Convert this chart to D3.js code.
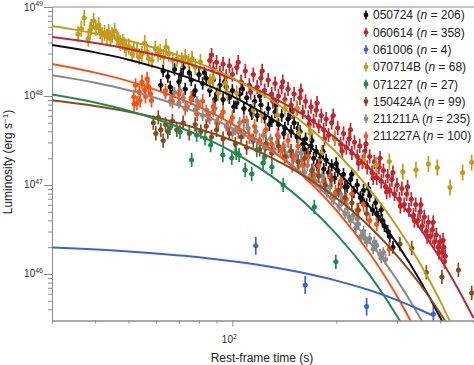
<!DOCTYPE html>
<html>
<head>
<meta charset="utf-8">
<script src="https://cdn.jsdelivr.net/npm/d3@7"></script>
<style>
  body { margin: 0; background: #fff; }
  svg { display: block; font-family: "Liberation Sans", Arial, sans-serif; }
</style>
</head>
<body>
<svg id="chart" width="474" height="365"></svg>
<script>
/**************************************************************************************************/
/* Data */
const names = ["050724", "060614", "061006", "070714B", "071227", "150424A", "211211A", "211227A"];
const counts = [206, 358, 4, 68, 27, 99, 235, 100];
const colors = ["#111111", "#c1272d", "#3a63d8", "#c49a1a", "#1f8a4c", "#8b4a1e", "#8a8a8a", "#ff4f12"];
// typical half length of the error bars, in dex
const errDex = [0.07, 0.08, 0.1, 0.09, 0.08, 0.08, 0.06, 0.08];

// rest-frame time (s), luminosity (erg/s)
const pts050724 = [[62,1.32e48],[63,1.91e48],[65,1.66e48],[66,1.26e48],[67,1.10e48],[68,2.00e48],[70,1.45e48],
  [71,1.74e48],[72,2.09e48],[73,1.20e48],[75,1.82e48],[76,1.51e48],[77,1.00e48],[78,1.15e48],[80,1.74e48],
  [82,1.38e48],[83,1.82e48],[84,1.58e48],[86,1.15e48],[88,1.51e48],[89,9.12e47],[90,1.05e48],[92,1.32e48],
  [94,9.12e47],[95,1.45e48],[96,1.26e48],[98,9.55e47],[100,1.15e48],[101,7.59e47],[103,8.32e47],[105,1.05e48],
  [107,1.20e48],[108,7.24e47],[110,9.55e47],[113,6.92e47],[114,6.31e47],[116,8.71e47],[118,6.03e47],
  [120,1.00e48],[121,7.94e47],[124,5.75e47],[127,7.24e47],[128,4.79e47],[130,5.25e47],[133,6.61e47],
  [134,7.94e47],[136,4.79e47],[139,6.03e47],[141,3.80e47],[142,4.37e47],[145,5.50e47],[147,6.31e47],
  [148,3.98e47],[151,5.01e47],[154,3.47e47],[155,4.37e47],[157,3.98e47],[160,2.88e47],[162,2.51e47],
  [163,3.31e47],[166,2.29e47],[169,2.75e47],[170,3.16e47],[172,2.00e47],[175,2.40e47],[176,1.66e47],
  [178,1.74e47],[181,2.09e47],[183,2.40e47],[184,1.51e47],[187,1.91e47],[190,1.38e47],[192,1.26e47],
  [194,1.66e47],[198,1.20e47],[200,1.74e47],[202,1.45e47],[206,1.05e47],[210,1.32e47],[212,9.55e46],
  [215,9.55e46],[220,1.15e47],[222,1.32e47],[225,8.32e46],[230,1.00e47],[235,7.24e46],[238,6.92e46],
  [240,8.71e46],[245,6.03e46],[248,9.12e46],[250,7.59e46],[255,5.25e46],[260,6.31e46],[262,4.79e46],
  [265,4.37e46],[270,5.25e46],[272,3.98e46],[276,3.47e46],[282,3.02e46],[286,2.63e46],[292,2.00e46]];
const pts060614 = [[86,2.51e48],[87,2.88e48],[88,2.00e48],[90,2.40e48],[92,1.82e48],[94,2.29e48],[95,1.45e48],
  [96,1.66e48],[98,2.19e48],[100,1.74e48],[103,2.09e48],[104,2.40e48],[106,1.45e48],[109,1.91e48],
  [112,1.32e48],[113,1.10e48],[115,1.74e48],[118,1.26e48],[121,1.58e48],[122,1.91e48],[124,1.15e48],
  [127,1.51e48],[130,1.05e48],[131,8.71e47],[133,1.38e48],[136,1.00e48],[139,1.26e48],[140,1.45e48],
  [142,9.12e47],[145,1.20e48],[148,7.94e47],[149,6.61e47],[151,1.05e48],[154,7.24e47],[157,9.55e47],
  [158,1.15e48],[160,6.61e47],[163,8.71e47],[166,5.75e47],[167,4.79e47],[169,7.59e47],[172,5.25e47],
  [175,6.92e47],[176,8.32e47],[178,4.57e47],[181,6.03e47],[184,4.17e47],[185,3.31e47],[187,5.50e47],
  [190,3.63e47],[194,5.01e47],[196,6.03e47],[198,3.31e47],[202,4.37e47],[206,2.88e47],[208,2.40e47],
  [210,3.80e47],[214,2.63e47],[218,3.31e47],[220,4.17e47],[222,2.29e47],[226,3.02e47],[230,2.09e47],
  [232,1.74e47],[234,2.75e47],[238,1.82e47],[242,2.40e47],[244,2.88e47],[246,1.58e47],[250,2.09e47],
  [254,1.38e47],[256,1.20e47],[258,1.82e47],[262,1.20e47],[266,1.58e47],[268,2.00e47],[270,1.10e47],
  [274,1.45e47],[278,9.55e46],[280,8.32e46],[282,1.26e47],[286,8.71e46],[290,1.15e47],[292,1.38e47],
  [295,7.94e46],[300,1.00e47],[305,6.92e46],[307,5.75e46],[310,9.12e46],[315,6.03e46],[320,7.94e46],
  [322,9.55e46],[325,5.25e46],[330,6.92e46],[335,4.57e46],[337,3.98e46],[340,6.03e46],[345,3.98e46],
  [350,5.01e46],[352,6.03e46],[355,3.47e46],[360,4.37e46],[365,3.02e46],[367,2.63e46],[370,3.80e46],
  [375,2.63e46],[380,3.16e46],[382,3.80e46],[385,2.29e46],[390,2.75e46],[395,2.00e46],[397,1.74e46],
  [400,2.29e46],[405,1.74e46],[408,2.40e46],[410,2.00e46],[412,1.38e46],[414,1.58e46]];
const pts061006 = [[116.9,2.07e46],[162.6,7.52e45],[245,4.30e45],[382.6,3.56e45]];
const pts070714B = [[35.7,4.93e48],[36.5,5.70e48],[37.2,7.58e48],[38.2,4.40e48],[38.7,5.47e48],[39.0,5.96e48],
  [39.6,6.96e48],[40.2,5.85e48],[41.0,6.23e48],[41.4,5.37e48],[41.9,4.81e48],[42.6,5.10e48],[43.3,4.60e48],
  [43.8,5.24e48],[44.3,4.40e48],[44.8,4.81e48],[45.6,5.37e48],[46.3,4.40e48],[46.8,4.23e48],[47.3,3.94e48],
  [48.1,4.04e48],[48.7,3.71e48],[49.2,3.40e48],[50.1,3.61e48],[51.2,2.99e48],[51.8,3.31e48],[52.9,3.26e48],
  [53.7,2.74e48],[54.7,2.99e48],[55.7,3.94e48],[56.6,3.12e48],[57.2,2.62e48],[58.5,2.52e48],[59.8,3.40e48],
  [60.9,2.99e48],[61.8,3.12e48],[63.2,2.74e48],[64.2,3.55e48],[65.4,2.99e48],[67.2,2.52e48],[69.1,2.62e48],
  [71.4,2.52e48],[73.0,2.74e48],[74.7,2.41e48],[76.4,2.62e48],[78.1,2.12e48],[80.8,2.41e48],[86.1,1.45e48],
  [87.9,1.58e48],[91.0,1.07e48],[95.5,1.40e48],[96.7,1.07e48],[102.9,1.07e48],[115,6.96e47],[121.6,6.12e47],
  [135,6.12e47],[142,7.28e47],[153.5,7.28e47],[156,3.81e47],[168,3.81e47],[181.5,2.27e47],[198,3.35e47],
  [240,1.91e47],[261,1.68e47],[285,1.83e47],[312,1.41e47],[340.6,1.48e47],[370,1.72e47],[392.6,1.57e47],
  [427.5,9.38e46],[465,1.38e47],[494,1.79e47]];
const pts071227 = [[65.9,4.37e47],[70.5,3.94e47],[76.2,1.91e47],[78.8,3.65e47],[83.3,3.37e47],[86.5,2.81e47],
  [93.8,2.17e47],[99.6,2.01e47],[102.5,2.29e47],[104.6,2.17e47],[108.9,1.48e47],[113.8,1.33e47],
  [117.7,2.47e47],[122.7,1.77e47],[124.1,2.07e47],[130.2,1.59e47],[140.4,1.00e47],[172.8,5.66e46],[199.5,1.37e46]];
const pts150424A = [[59,5.01e47],[60,3.80e47],[61,5.75e47],[62,4.17e47],[63,3.16e47],[64,4.79e47],[65,3.98e47],
  [67,5.25e47],[69,4.17e47],[72,5.01e47],[75,3.80e47],[78,4.79e47],[81,3.98e47],[84,4.57e47],[87,3.47e47],
  [90,4.17e47],[94,3.31e47],[98,3.80e47],[102,2.88e47],[106,3.47e47],[110,2.63e47],[115,3.16e47],
  [120,2.51e47],[125,2.88e47],[130,2.29e47],[136,2.75e47],[142,2.09e47],[148,2.40e47],[155,1.82e47],
  [162,2.00e47],[170,1.45e47],[178,1.26e47],[186,1.00e47],[194,1.15e47],[203,8.71e46],[212,7.24e46],
  [222,6.31e46],[232,5.25e46],[245,4.79e46],[306,2.17e46],[331,1.95e46],[365,1.04e46],[405,9.25e45],
  [452,1.11e46],[494,6.12e45]];
const pts211211A = [[64,1.05e48],[66,8.71e47],[68,1.10e48],[70,8.32e47],[70.5,1.15e48],[72,9.55e47],[74,7.59e47],
  [76,9.12e47],[78,6.92e47],[79,8.71e47],[80,7.94e47],[82,6.03e47],[84,6.92e47],[86,5.50e47],[88,6.61e47],
  [89,7.24e47],[90,5.01e47],[93,6.03e47],[96,4.57e47],[99,5.25e47],[100,3.80e47],[102,4.17e47],[105,5.01e47],
  [108,3.80e47],[110,5.25e47],[111,4.37e47],[114,3.31e47],[117,3.98e47],[120,3.02e47],[123,3.63e47],
  [124,2.63e47],[126,2.88e47],[129,3.31e47],[132,2.51e47],[135,3.02e47],[136,3.47e47],[138,2.40e47],
  [141,2.75e47],[144,2.09e47],[147,2.40e47],[149,1.58e47],[150,1.91e47],[153,2.19e47],[156,1.66e47],
  [158,2.29e47],[159,1.91e47],[162,1.38e47],[165,1.66e47],[168,1.26e47],[170,1.15e47],[171,1.51e47],
  [174,1.10e47],[177,1.32e47],[180,9.55e46],[182,1.26e47],[184,1.10e47],[188,8.32e46],[192,9.55e46],
  [194,7.24e46],[196,6.92e46],[200,7.94e46],[204,5.75e46],[206,7.94e46],[208,6.61e46],[212,4.79e46],
  [216,5.50e46],[218,4.37e46],[220,3.98e46],[224,4.57e46],[228,3.31e46],[230,4.17e46],[232,3.63e46],
  [236,2.63e46],[240,3.02e46],[242,2.51e46],[245,2.29e46],[250,2.51e46],[256,1.91e46],[258,2.29e46],
  [262,2.09e46],[268,1.66e46],[270,1.51e46],[274,1.74e46],[278,1.45e46]];
const pts211227A = [[51.8,9.77e47],[51.9,8.13e47],[52.4,1.32e48],[52.9,8.30e47],[53.7,1.11e48],[54.0,8.91e47],
  [54.7,1.44e48],[55.7,1.16e48],[56.0,9.90e47],[56.6,1.56e48],[57.2,1.26e48],[57.9,1.06e48],[58.3,8.91e47],
  [64,1.15e48],[67,8.71e47],[70,1.05e48],[73,7.24e47],[76,9.55e47],[79,6.31e47],[82,8.71e47],[85,6.03e47],
  [88,7.59e47],[91,5.01e47],[94,6.61e47],[97,4.37e47],[100,5.75e47],[104,3.98e47],[108,5.25e47],
  [112,3.47e47],[116,4.57e47],[120,3.16e47],[125,4.17e47],[130,2.88e47],[135,3.63e47],[140,2.51e47],
  [145,3.16e47],[150,2.09e47],[155,2.75e47],[160,1.66e47],[166,2.09e47],[172,1.32e47],[178,1.66e47],
  [185,1.05e47],[192,1.26e47],[199,8.32e46],[206,1.10e47],[214,6.92e46],[222,7.94e46],[230,5.25e46],
  [240,6.03e46],[250,3.98e46],[262,3.63e46],[285,1.91e46]];

// fitted curves
const fit050724 = [[30,3.74e48],[40,3.09e48],[50,2.56e48],[60,2.11e48],[80,1.45e48],[100,9.9e47],[130,5.57e47],
  [160,3.15e47],[200,1.47e47],[250,5.67e46],[300,2.19e46],[350,8.45e45],[400,3.26e45],[450,1.26e45]];
const fit060614 = [[30,4.60e48],[40,3.94e48],[50,3.38e48],[60,2.89e48],[80,2.12e48],[100,1.56e48],[130,9.8e47],
  [160,6.17e47],[200,3.32e47],[250,1.53e47],[300,7.06e46],[350,3.26e46],[400,1.50e46],[450,6.93e45],[500,3.20e45]];
const fit061006 = [[30,1.98e46],[50,1.79e46],[80,1.54e46],[100,1.39e46],[130,1.20e46],[160,1.03e46],
  [200,8.42e45],[250,6.55e45],[300,5.09e45],[350,3.96e45],[385,3.33e45]];
const fit070714B = [[30,6.12e48],[40,5.05e48],[50,4.17e48],[60,3.44e48],[80,2.34e48],[100,1.60e48],[130,8.95e47],
  [160,5.03e47],[200,2.33e47],[250,8.91e46],[300,3.41e46],[350,1.31e46],[400,4.99e45],[450,1.91e45]];
const fit071227 = [[30,1.04e48],[40,8.45e47],[50,6.83e47],[60,5.52e47],[80,3.61e47],[100,2.36e47],[130,1.25e47],
  [160,6.61e46],[200,2.82e46],[250,9.75e45],[300,3.37e45],[350,1.17e45]];
const fit150424A = [[30,8.95e47],[40,7.71e47],[50,6.65e47],[60,5.73e47],[80,4.26e47],[100,3.16e47],[130,2.02e47],
  [160,1.29e47],[200,7.14e46],[250,3.40e46],[300,1.61e46],[350,7.66e45],[400,3.64e45],[450,1.73e45]];
const fit211211A = [[30,1.71e48],[40,1.41e48],[50,1.16e48],[60,9.49e47],[80,6.41e47],[100,4.34e47],[130,2.40e47],
  [160,1.34e47],[200,6.10e46],[250,2.29e46],[300,8.58e45],[350,3.22e45],[400,1.21e45]];
const fit211227A = [[30,2.29e48],[40,1.83e48],[50,1.47e48],[60,1.17e48],[80,7.53e47],[100,4.83e47],[130,2.48e47],
  [160,1.27e47],[200,5.22e46],[250,1.71e46],[300,5.64e45],[350,1.85e45]];

const pointSets = [pts050724, pts060614, pts061006, pts070714B, pts071227, pts150424A, pts211211A, pts211227A];
const fitSets = [fit050724, fit060614, fit061006, fit070714B, fit071227, fit150424A, fit211211A, fit211227A];
// which series goes on top of which
const drawOrder = [1, 0, 6, 7, 5, 4, 2, 3];

// axes
const xMinorTicks = [30, 40, 50, 60, 70, 80, 90, 200, 300, 400, 500];
const xMajorTicks = [100];
const xTickExp = ["2"];
const yMajorTicks = [1e46, 1e47, 1e48, 1e49];
const yTickExp = ["46", "47", "48", "49"];

/**************************************************************************************************/
/* Chart */
const series = names.map((name, i) => ({
    name: name, count: counts[i], color: colors[i], err: errDex[i],
    points: pointSets[i], fit: fitSets[i]
}));

const svg = d3.select("#chart");
const plotLeft = 52, plotRight = 473.5, plotTop = 7, plotBottom = 320.5;

const x = d3.scaleLog().domain([30, 500]).range([plotLeft, plotRight]);
const y = d3.scaleLog().domain([3e45, 1e49]).range([plotBottom, plotTop]);

const yMinorTicks = [];
[45, 46, 47, 48].forEach(e => {
    d3.range(2, 10).forEach(m => {
        const v = m * Math.pow(10, e);
        if (v >= 3e45) yMinorTicks.push(v);
    });
});

svg.append("clipPath").attr("id", "plotClip")
    .append("rect")
        .attr("x", plotLeft).attr("y", plotTop)
        .attr("width", plotRight - plotLeft + 1).attr("height", plotBottom - plotTop);

const axisColor = "#8c8c8c";

// top frame line
svg.append("line")
    .attr("x1", plotLeft).attr("x2", 474)
    .attr("y1", plotTop).attr("y2", plotTop)
    .attr("stroke", axisColor).attr("stroke-width", 1);

// y axis: minor + major ticks
const yMinorAxis = svg.append("g")
    .attr("transform", `translate(${plotLeft},0)`)
    .call(d3.axisLeft(y).tickValues(yMinorTicks).tickSize(4).tickSizeOuter(0).tickFormat(""));
const yMajorAxis = svg.append("g")
    .attr("transform", `translate(${plotLeft},0)`)
    .call(d3.axisLeft(y).tickValues(yMajorTicks).tickSize(8).tickSizeOuter(0).tickFormat(""));

// x axis
const xMinorAxis = svg.append("g")
    .attr("transform", `translate(0,${plotBottom})`)
    .call(d3.axisBottom(x).tickValues(xMinorTicks).tickSize(3).tickSizeOuter(0).tickFormat(""));
const xMajorAxis = svg.append("g")
    .attr("transform", `translate(0,${plotBottom})`)
    .call(d3.axisBottom(x).tickValues(xMajorTicks).tickSize(6).tickSizeOuter(0).tickFormat(""));

[yMinorAxis, yMajorAxis, xMinorAxis, xMajorAxis].forEach(a => {
    a.selectAll("path, line").attr("stroke", axisColor).attr("stroke-width", 1);
});

// tick labels as 10^n
const yLabels = svg.append("g")
    .attr("font-size", 10).attr("fill", "#333");
yLabels.selectAll("text")
    .data(d3.zip(yMajorTicks, yTickExp))
    .join("text")
        .attr("x", 43)
        .attr("y", ([v, e]) => y(v) + 3.5)
        .attr("text-anchor", "end")
        .each(function([v, e]) {
            const t = d3.select(this);
            t.append("tspan").text("10");
            t.append("tspan").attr("dy", -4.5).attr("font-size", 7).text(e);
        });

const xLabels = svg.append("g")
    .attr("font-size", 10).attr("fill", "#333");
xLabels.selectAll("text")
    .data(d3.zip(xMajorTicks, xTickExp))
    .join("text")
        .attr("x", ([v, e]) => x(v) - 3)
        .attr("y", 343)
        .attr("text-anchor", "middle")
        .each(function([v, e]) {
            const t = d3.select(this);
            t.append("tspan").text("10");
            t.append("tspan").attr("dy", -4.5).attr("font-size", 7).text(e);
        });

// axis titles
svg.append("text")
    .attr("x", 262).attr("y", 362)
    .attr("text-anchor", "middle")
    .attr("font-size", 12).attr("fill", "#222")
    .text("Rest-frame time (s)");

const yTitle = svg.append("text")
    .attr("transform", "translate(12,162) rotate(-90)")
    .attr("text-anchor", "middle")
    .attr("font-size", 12).attr("fill", "#222");
yTitle.append("tspan").text("Luminosity (erg s");
yTitle.append("tspan").attr("dy", -4.5).attr("font-size", 8).text("\u22121");
yTitle.append("tspan").attr("dy", 4.5).text(")");

/* Data points with error bars */
const plot = svg.append("g").attr("clip-path", "url(#plotClip)");

const groups = plot.selectAll("g.series")
    .data(drawOrder.map(i => series[i]))
    .join("g")
        .attr("class", "series")
        .attr("fill", d => d.color)
        .attr("stroke", d => d.color);

groups.each(function(s) {
    const k = Math.pow(10, s.err);
    const g = d3.select(this).selectAll("g")
        .data(s.points)
        .join("g");
    g.append("line")
        .attr("x1", d => x(d[0])).attr("x2", d => x(d[0]))
        .attr("y1", d => y(d[1] * k)).attr("y2", d => y(d[1] / k))
        .attr("stroke-width", 1.7);
    g.append("line")
        .attr("x1", d => x(d[0]) - 2.4).attr("x2", d => x(d[0]) + 2.4)
        .attr("y1", d => y(d[1])).attr("y2", d => y(d[1]))
        .attr("stroke-width", 1.5);
    g.append("circle")
        .attr("cx", d => x(d[0])).attr("cy", d => y(d[1]))
        .attr("r", 2.5)
        .attr("stroke", "none");
});

/* Fitted curves */
const line = d3.line()
    .x(d => x(d[0]))
    .y(d => y(d[1]))
    .curve(d3.curveMonotoneX);

plot.selectAll("path.fit")
    .data(drawOrder.map(i => series[i]))
    .join("path")
        .attr("class", "fit")
        .attr("d", d => line(d.fit))
        .attr("fill", "none")
        .attr("stroke", d => d.color)
        .attr("stroke-width", 2);

/* Legend */
const legend = svg.append("g")
    .attr("font-size", 12).attr("fill", "#222");
const rows = legend.selectAll("g")
    .data(series)
    .join("g")
        .attr("transform", (d, i) => `translate(366,${15 + i * 17.3})`);
rows.append("line")
    .attr("y1", -4.5).attr("y2", 4.5)
    .attr("stroke", d => d.color).attr("stroke-width", 1.6);
rows.append("circle")
    .attr("r", 2.4)
    .attr("fill", d => d.color);
rows.append("text")
    .attr("x", 7).attr("y", 4.3)
    .each(function(d) {
        const t = d3.select(this);
        t.append("tspan").text(d.name + " (");
        t.append("tspan").attr("font-style", "italic").text("n");
        t.append("tspan").text(" = " + d.count + ")");
    });
</script>
</body>
</html>
